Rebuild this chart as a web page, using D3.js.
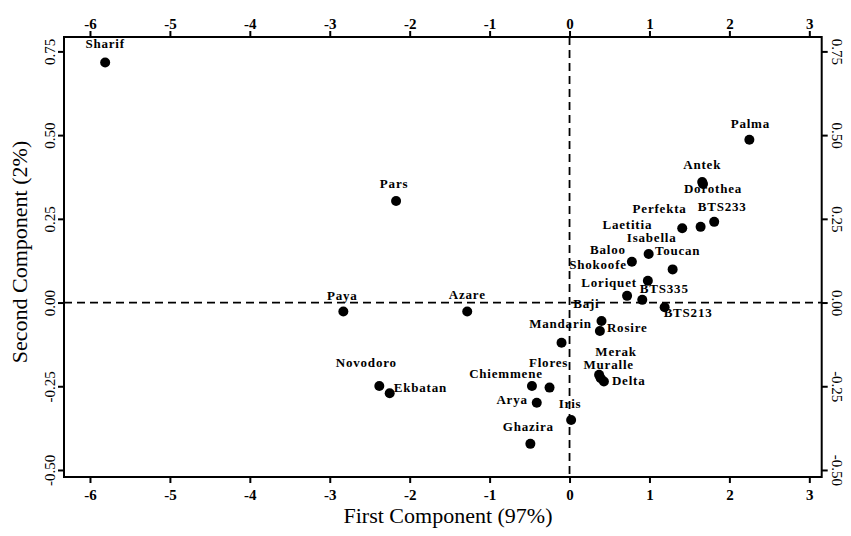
<!DOCTYPE html>
<html>
<head>
<meta charset="utf-8">
<script src="https://cdn.jsdelivr.net/npm/d3@7"></script>
<style>
  body { margin: 0; background: #fff; }
  svg text { font-family: "Liberation Serif", "Times New Roman", serif; }
</style>
</head>
<body>
<div id="chart"></div>
<script>
// PCA scores per cultivar
const cultivars = ['Sharif', 'Palma', 'Antek', 'Dorothea', 'Perfekta', 'BTS233', 'Laetitia',
    'Isabella', 'Baloo', 'Toucan', 'Shokoofe', 'Loriquet', 'BTS335', 'Baji', 'BTS213',
    'Rosire', 'Mandarin', 'Merak', 'Muralle', 'Delta', 'Flores', 'Chiemmene', 'Arya',
    'Iris', 'Ghazira', 'Novodoro', 'Ekbatan', 'Paya', 'Azare', 'Pars'];
const firstComp = [-5.81, 2.25, 1.66, 1.67, 1.64, 1.81, 1.41,
    0.99, 0.78, 1.29, 0.98, 0.72, 0.91, 0.40, 1.19,
    0.38, -0.10, 0.37, 0.39, 0.43, -0.25, -0.47, -0.41,
    0.02, -0.49, -2.38, -2.25, -2.83, -1.28, -2.17];
const secondComp = [0.717, 0.486, 0.360, 0.354, 0.226, 0.241, 0.222,
    0.145, 0.122, 0.099, 0.065, 0.020, 0.008, -0.055, -0.014,
    -0.085, -0.120, -0.216, -0.226, -0.236, -0.254, -0.249, -0.299,
    -0.351, -0.422, -0.249, -0.271, -0.027, -0.027, 0.303];

const xTicks = [-6, -5, -4, -3, -2, -1, 0, 1, 2, 3];
const yTicks = [-0.50, -0.25, 0.00, 0.25, 0.50, 0.75];
const xTitle = 'First Component (97%)';
const yTitle = 'Second Component (2%)';

// label nudges in pixels relative to the point: [dx, dy, anchor]
const nudge = {
    Sharif: [0, -14, 'middle'], Palma: [1, -12, 'middle'], Antek: [0, -13, 'middle'],
    Dorothea: [10, 9, 'middle'], Perfekta: [-41, -14, 'middle'], BTS233: [8, -11, 'middle'],
    Laetitia: [-30, 1, 'end'], Isabella: [3, -12, 'middle'], Baloo: [-6, -8, 'end'],
    Toucan: [5, -14, 'middle'], Shokoofe: [-21, -12, 'end'], Loriquet: [-18, -9, 'middle'],
    BTS335: [22, -7, 'middle'], Baji: [-2, -13, 'end'], BTS213: [-1, 10, 'start'],
    Rosire: [7, 1, 'start'], Mandarin: [-1, -15, 'middle'], Merak: [17, -19, 'middle'],
    Muralle: [8, -9, 'middle'], Delta: [8, 3, 'start'], Flores: [-1, -21, 'middle'],
    Chiemmene: [-26, -8, 'middle'], Arya: [-9, 1, 'end'], Iris: [-1, -12, 'middle'],
    Ghazira: [-2, -13, 'middle'], Novodoro: [-13, -19, 'middle'], Ekbatan: [4, -1, 'start'],
    Paya: [-1, -12, 'middle'], Azare: [0, -13, 'middle'], Pars: [-2, -13, 'middle']
};

const width = 851, height = 536;
const plotLeft = 64, plotRight = 821.7, plotTop = 37, plotBottom = 477;
const serif = '"Liberation Serif", "Times New Roman", serif';

const svg = d3.select('#chart')
    .append('svg')
    .attr('width', width)
    .attr('height', height);

const x = d3.scaleLinear().domain([-6.325, 3.155]).range([plotLeft, plotRight]);
const y = d3.scaleLinear().domain([-0.521, 0.793]).range([plotBottom, plotTop]);

const points = cultivars.map((name, i) => ({ name, pc1: firstComp[i], pc2: secondComp[i] }));

// reference lines at zero
svg.append('line')
    .attr('x1', plotLeft).attr('x2', plotRight)
    .attr('y1', y(0)).attr('y2', y(0))
    .attr('stroke', '#000').attr('stroke-width', 1.8)
    .attr('stroke-dasharray', '8,5');
svg.append('line')
    .attr('x1', x(0)).attr('x2', x(0))
    .attr('y1', plotTop).attr('y2', plotBottom)
    .attr('stroke', '#000').attr('stroke-width', 1.8)
    .attr('stroke-dasharray', '8,5');

// axes
const fmtX = d => String(d);
const fmtY = d => d.toFixed(2);

function styleAxis(g) {
    g.attr('font-family', serif);
    g.select('.domain').remove();
    g.selectAll('.tick line').attr('stroke', '#000').attr('stroke-width', 2);
    g.selectAll('.tick text').attr('fill', '#000').attr('font-family', serif);
}

svg.append('g')
    .attr('transform', `translate(0,${plotBottom})`)
    .call(d3.axisBottom(x).tickValues(xTicks).tickSize(6).tickFormat(fmtX))
    .call(styleAxis)
    .call(g => g.selectAll('.tick text')
        .attr('y', 23).attr('dy', 0)
        .attr('font-size', 15).attr('font-weight', 'bold'));

svg.append('g')
    .attr('transform', `translate(0,${plotTop})`)
    .call(d3.axisTop(x).tickValues(xTicks).tickSize(6).tickFormat(fmtX))
    .call(styleAxis)
    .call(g => g.selectAll('.tick text')
        .attr('y', -8).attr('dy', 0)
        .attr('font-size', 15).attr('font-weight', 'bold'));

svg.append('g')
    .attr('transform', `translate(${plotLeft},0)`)
    .call(d3.axisLeft(y).tickValues(yTicks).tickSize(6).tickFormat(fmtY))
    .call(styleAxis)
    .call(g => g.selectAll('.tick text')
        .attr('transform', 'rotate(-90)')
        .attr('x', 0).attr('y', -9).attr('dy', 0)
        .attr('text-anchor', 'middle')
        .attr('font-size', 15));

svg.append('g')
    .attr('transform', `translate(${plotRight},0)`)
    .call(d3.axisRight(y).tickValues(yTicks).tickSize(6).tickFormat(fmtY))
    .call(styleAxis)
    .call(g => g.selectAll('.tick text')
        .attr('transform', 'rotate(90)')
        .attr('x', 0).attr('y', -10).attr('dy', 0)
        .attr('text-anchor', 'middle')
        .attr('font-size', 15));

// frame
svg.append('rect')
    .attr('x', plotLeft).attr('y', plotTop)
    .attr('width', plotRight - plotLeft).attr('height', plotBottom - plotTop)
    .attr('fill', 'none')
    .attr('stroke', '#000')
    .attr('stroke-width', 2);

// points
svg.append('g')
    .selectAll('circle')
    .data(points)
    .join('circle')
    .attr('cx', d => x(d.pc1))
    .attr('cy', d => y(d.pc2))
    .attr('r', 5)
    .attr('fill', '#000');

// point labels
svg.append('g')
    .selectAll('text')
    .data(points)
    .join('text')
    .attr('x', d => x(d.pc1) + nudge[d.name][0])
    .attr('y', d => y(d.pc2) + nudge[d.name][1])
    .attr('text-anchor', d => nudge[d.name][2])
    .attr('font-family', serif)
    .attr('font-size', 13)
    .attr('font-weight', 'bold')
    .attr('letter-spacing', 0.8)
    .attr('fill', '#000')
    .text(d => d.name);

// axis titles
svg.append('text')
    .attr('x', 448)
    .attr('y', 523)
    .attr('text-anchor', 'middle')
    .attr('font-family', serif)
    .attr('font-size', 22)
    .text(xTitle);

svg.append('text')
    .attr('transform', 'translate(27,252) rotate(-90)')
    .attr('text-anchor', 'middle')
    .attr('font-family', serif)
    .attr('font-size', 22)
    .text(yTitle);
</script>
</body>
</html>
